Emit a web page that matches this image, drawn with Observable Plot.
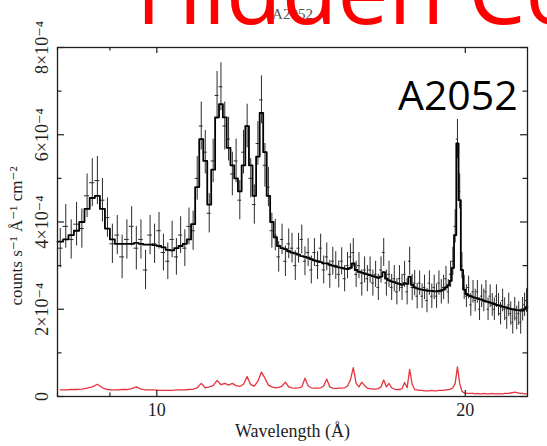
<!DOCTYPE html>
<html>
<head>
<meta charset="utf-8">
<script src="https://cdn.jsdelivr.net/npm/d3@7"></script>
<script src="https://cdn.jsdelivr.net/npm/@observablehq/plot@0.6"></script>
<style>
  html, body { margin: 0; padding: 0; background: #fff; }
  #wrap { position: relative; width: 547px; height: 446px; overflow: hidden; }
  #overlay { position: absolute; left: 0; top: 0; pointer-events: none; }
</style>
</head>
<body>
<div id="wrap"></div>
<script>
// A2052 RGS spectrum, binned at 0.1 Å starting at 8.0 Å.
// Fluxes are in units of 1e-4 counts s^-1 Å^-1 cm^-2.
const binStart = 8.0;
const binWidth = 0.1;

// observed flux per bin
const counts = [
  3.4, 3.9, 3.6, 3.95, 3.85, 4.6, 4.9, 4.95, 4.5, 4.1,   // 8.0
  3.5, 3.7, 3.2, 3.6, 3.9, 3.4, 3.6, 2.9, 3.7, 3.5,      // 9.0
  3.8, 3.3, 3.1, 3.6, 3.2, 3.7, 3.4, 3.9, 3.8, 5.0,      // 10.0
  6.2, 5.6, 4.2, 5.4, 6.9, 7.1, 6.2, 5.9, 5.1, 5.4,      // 11.0
  4.5, 5.6, 6.2, 5.0, 4.4, 5.8, 6.8, 5.3, 4.8, 3.8,      // 12.0
  3.7, 3.2, 3.6, 3.1, 3.5, 3.4, 3.0, 3.4, 3.6, 3.1,      // 13.0
  3.3, 2.9, 3.3, 3.0, 3.4, 2.9, 3.2, 2.8, 3.1, 3.0,      // 14.0
  2.8, 3.1, 2.7, 3.0, 3.2, 3.3, 2.8, 3.0, 2.6, 2.9,      // 15.0
  2.7, 2.9, 2.6, 2.8, 2.5, 2.9, 3.3, 2.6, 2.8, 2.5,      // 16.0
  2.7, 2.4, 2.7, 2.5, 2.8, 2.4, 3.1, 2.5, 2.6, 2.3,      // 17.0
  2.6, 2.3, 2.5, 2.2, 2.6, 2.3, 2.5, 2.3, 2.6, 2.4,      // 18.0
  2.5, 2.7, 2.4, 2.8, 3.1, 3.9, 5.9, 4.7, 3.0, 2.5,      // 19.0
  2.3, 2.5, 2.1, 2.4, 2.2, 2.4, 2.0, 2.3, 2.2, 2.4,      // 20.0
  2.0, 2.3, 2.1, 2.0, 2.3, 2.1, 1.9, 2.2, 2.0, 1.8,      // 21.0
  2.1, 1.9, 1.7, 2.0, 1.8, 1.9, 1.7, 2.0, 2.1, 2.2       // 22.0
];

// 1-sigma uncertainty per bin
const errors = [
  .45, .5, .45, .5, .45, .5, .55, .55, .5, .45,
  .45, .45, .5, .45, .45, .5, .45, .45, .45, .45,
  .42, .42, .42, .42, .42, .42, .42, .42, .45, .5,
  .55, .5, .45, .5, .55, .55, .55, .5, .5, .5,
  .45, .5, .5, .45, .45, .5, .55, .5, .45, .4,
  .36, .35, .35, .35, .34, .34, .34, .34, .33, .33,
  .32, .32, .32, .32, .32, .32, .32, .32, .32, .32,
  .31, .31, .3, .3, .3, .32, .3, .3, .3, .3,
  .3, .3, .3, .3, .3, .3, .32, .3, .3, .3,
  .3, .3, .3, .3, .3, .3, .32, .3, .29, .29,
  .28, .28, .28, .28, .28, .28, .28, .28, .28, .28,
  .28, .28, .28, .3, .32, .38, .45, .4, .3, .28,
  .26, .26, .26, .26, .26, .26, .26, .26, .26, .26,
  .26, .26, .26, .26, .26, .26, .26, .26, .26, .26,
  .27, .27, .27, .27, .27, .27, .27, .27, .27, .27
];

// best-fitting cooling-flow model
const model = [
  3.55, 3.6, 3.7, 3.8, 4.0, 4.3, 4.55, 4.6, 4.3, 3.85,
  3.6, 3.5, 3.5, 3.5, 3.5, 3.52, 3.5, 3.48, 3.48, 3.47,
  3.45, 3.42, 3.36, 3.35, 3.4, 3.45, 3.5, 3.6, 3.95, 4.8,
  5.9, 5.4, 4.4, 5.2, 6.4, 6.7, 6.4, 5.7, 5.3, 5.0,
  4.7, 5.3, 6.2, 5.3, 4.6, 5.5, 6.5, 5.6, 4.6, 4.0,
  3.65, 3.45, 3.4, 3.38, 3.33, 3.3, 3.28, 3.25, 3.22, 3.2,
  3.18, 3.15, 3.12, 3.1, 3.08, 3.05, 3.05, 3.02, 3.0, 2.98,
  2.96, 2.95, 2.93, 2.92, 2.95, 3.05, 2.9, 2.86, 2.84, 2.82,
  2.8, 2.78, 2.76, 2.74, 2.72, 2.75, 2.85, 2.7, 2.66, 2.64,
  2.62, 2.6, 2.58, 2.56, 2.6, 2.58, 2.75, 2.56, 2.5, 2.48,
  2.46, 2.45, 2.44, 2.43, 2.42, 2.42, 2.41, 2.41, 2.42, 2.43,
  2.45, 2.5, 2.55, 2.65, 2.95, 3.7, 5.8, 4.5, 2.9, 2.45,
  2.35, 2.32, 2.3, 2.28, 2.26, 2.25, 2.23, 2.22, 2.2, 2.18,
  2.17, 2.15, 2.14, 2.12, 2.1, 2.09, 2.08, 2.06, 2.05, 2.04,
  2.02, 2.01, 2.0, 1.99, 1.98, 1.98, 1.97, 1.97, 2.0, 2.05
];

// low-temperature component (red)
const cool = [
  .15, .15, .16, .16, .17, .19, .22, .28, .2, .16,
  .15, .15, .16, .16, .18, .22, .17, .15, .15, .15,
  .14, .14, .14, .14, .15, .15, .15, .16, .17, .2,
  .3, .2, .22, .25, .37, .27, .3, .26, .3, .25,
  .23, .28, .46, .27, .24, .35, .56, .42, .26, .22,
  .2, .21, .24, .33, .22, .2, .19, .2, .22, .42,
  .24, .2, .19, .19, .2, .24, .4, .22, .19, .18,
  .19, .19, .2, .24, .38, .66, .3, .22, .33, .25,
  .19, .18, .17, .17, .18, .22, .38, .22, .3, .2,
  .17, .16, .16, .18, .32, .2, .62, .28, .16, .15,
  .14, .14, .13, .13, .13, .14, .13, .13, .14, .14,
  .14, .15, .16, .17, .2, .3, .68, .3, .12, .08,
  .07, .07, .07, .07, .06, .07, .06, .06, .07, .06,
  .06, .06, .07, .06, .06, .06, .06, .06, .07, .07,
  .07, .08, .09, .1, .09, .08, .07, .07, .06, .06
];

// axis ticks
const xDomain = [8, 23];
const xMajorTicks = [10, 20];
const xMinorTicks = [8, 9];
const yMajorTicks = [0, 2, 4, 6, 8];
const yMinorTicks = [1, 3, 5, 7];
const yTickLabels = ["0", "2×10⁻⁴", "4×10⁻⁴", "6×10⁻⁴", "8×10⁻⁴"];

const bins = counts.map((c, i) => ({
  lo: binStart + i * binWidth,
  hi: binStart + (i + 1) * binWidth,
  mid: binStart + (i + 0.5) * binWidth,
  counts: c,
  err: errors[i],
  model: model[i],
  cool: cool[i]
}));
const modelSteps = bins.flatMap(b => [{x: b.lo, y: b.model}, {x: b.hi, y: b.model}]);

const W = 547, H = 446;
const mL = 57, mR = 20, mT = 47, mB = 50;
const innerH = H - mT - mB;
const innerW = W - mL - mR;
const ink = "#1e1e1e";
const centred = {textAnchor: "middle", lineAnchor: "middle"};

const chart = Plot.plot({
  width: W,
  height: H,
  marginLeft: mL,
  marginRight: mR,
  marginTop: mT,
  marginBottom: mB,
  style: {fontFamily: "'Liberation Serif', 'DejaVu Serif', serif", fontSize: "18px", background: "#fff", color: ink},
  x: {type: "log", domain: xDomain, axis: null},
  y: {domain: [0, 8], axis: null},
  marks: [
    Plot.line(bins, {x: "mid", y: "cool", stroke: "#e5333d", strokeWidth: 1.3}),
    Plot.ruleX(bins, {x: "mid", y1: d => d.counts - d.err, y2: d => d.counts + d.err, stroke: "#2b2b2b", strokeWidth: 1}),
    Plot.ruleY(bins, {y: "counts", x1: "lo", x2: "hi", stroke: "#2b2b2b", strokeWidth: 1}),
    Plot.line(modelSteps, {x: "x", y: "y", stroke: "#000", strokeWidth: 1.8}),
    Plot.frame({stroke: ink, strokeWidth: 1.3}),
    // inward ticks, bottom and top
    Plot.tickX(xMajorTicks, {x: d => d, insetTop: innerH - 6, stroke: ink, strokeWidth: 1.2}),
    Plot.tickX(xMajorTicks, {x: d => d, insetBottom: innerH - 6, stroke: ink, strokeWidth: 1.2}),
    Plot.tickX(xMinorTicks, {x: d => d, insetTop: innerH - 3.5, stroke: ink, strokeWidth: 1.2}),
    Plot.tickX(xMinorTicks, {x: d => d, insetBottom: innerH - 3.5, stroke: ink, strokeWidth: 1.2}),
    // inward ticks, left and right
    Plot.tickY(yMajorTicks, {y: d => d, insetRight: innerW - 7, stroke: ink, strokeWidth: 1.2}),
    Plot.tickY(yMajorTicks, {y: d => d, insetLeft: innerW - 7, stroke: ink, strokeWidth: 1.2}),
    Plot.tickY(yMinorTicks, {y: d => d, insetRight: innerW - 4.5, stroke: ink, strokeWidth: 1.2}),
    Plot.tickY(yMinorTicks, {y: d => d, insetLeft: innerW - 4.5, stroke: ink, strokeWidth: 1.2}),
    // tick labels
    Plot.text(yMajorTicks, {y: d => d, text: (d, i) => yTickLabels[i], frameAnchor: "left", dx: -15, rotate: -90, fontSize: 18, fill: ink, ...centred}),
    Plot.text(xMajorTicks, {x: d => d, text: d => String(d), frameAnchor: "bottom", dy: 14, fontSize: 18, fill: ink, ...centred}),
    // axis titles
    Plot.text(["Wavelength (Å)"], {frameAnchor: "bottom", dy: 35, fontSize: 18, fill: ink, ...centred}),
    Plot.text(["counts s⁻¹ Å⁻¹ cm⁻²"], {frameAnchor: "left", dx: -41, dy: 14, rotate: -90, fontSize: 17, fill: ink, ...centred}),
    Plot.text(["A2052"], {frameAnchor: "top", dy: -33, fontSize: 15, fill: "#555", ...centred})
  ]
});

const wrap = document.getElementById("wrap");
wrap.appendChild(chart);

// slide annotations drawn over the chart
const overlay = d3.select(wrap).append("svg")
  .attr("id", "overlay")
  .attr("width", W)
  .attr("height", H);
overlay.append("text")
  .attr("x", 398).attr("y", 110)
  .attr("font-family", "'Open Sans', sans-serif")
  .attr("font-size", 41)
  .attr("fill", "#000")
  .text("A2052");
overlay.append("text")
  .attr("x", 136).attr("y", 24)
  .attr("font-family", "'Open Sans', sans-serif")
  .attr("font-size", 91)
  .attr("fill", "#ff0000")
  .text("Hidden Cooling");
</script>
</body>
</html>
